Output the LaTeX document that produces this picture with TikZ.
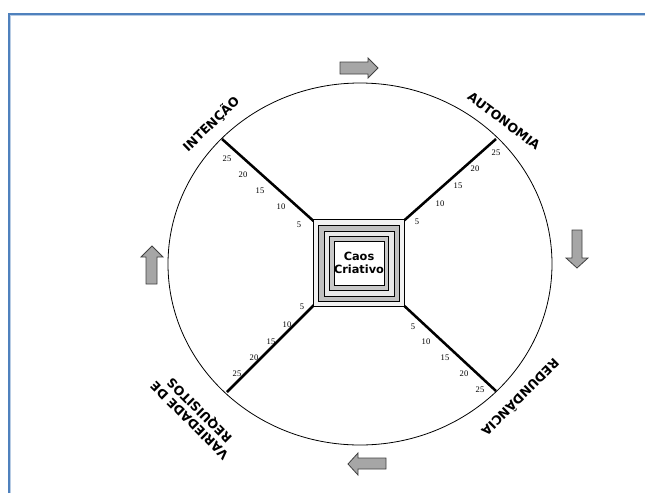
\documentclass[tikz,border=0pt]{standalone}
\usepackage{fontspec}
\setmainfont{Liberation Serif}
\newfontfamily\lblfont{DejaVu Sans}

\tikzset{every picture/.style={line width=0.75pt}}
\tikzset{
  ticklbl/.style={font=\fontsize{6.4}{7}\selectfont, inner sep=0pt},
  axislbl/.style={font=\lblfont\bfseries\fontsize{9.4}{10.5}\selectfont, inner sep=0pt, align=center},
  blockarrow/.style={draw={rgb, 255:red, 64; green, 64; blue, 64}, fill={rgb, 255:red, 166; green, 166; blue, 166}, line width=0.6pt, line join=miter},
  axisline/.style={line width=1.9pt},
  sqline/.style={draw=black, line width=0.6pt}
}

\begin{document}
\begin{tikzpicture}[x=0.75pt,y=0.75pt,yscale=-1,xscale=1]
	\useasboundingbox (0,0) rectangle (645,493);

	%Frame
	\draw [color={rgb, 255:red, 79; green, 129; blue, 189 }, line width=1.5pt] (8.5,493) -- (8.5,13.5) -- (645,13.5) ;
	\draw [color={rgb, 255:red, 184; green, 204; blue, 228 }, line width=0.6pt] (10.5,493) -- (10.5,15.5) -- (645,15.5) ;

	%Shape: Ellipse
	\draw  [line width=0.6pt] (360,264) ellipse (192 and 181) ;

	%Straight Lines
	\draw [axisline]   (318,225) -- (222,139) ;
	\draw [axisline]   (399,225) -- (496,139) ;
	\draw [axisline]   (318,301) -- (227,392) ;
	\draw [axisline]   (399,301) -- (496,391) ;

	%Shape: Rectangle
	\draw  [sqline, fill={rgb, 255:red, 242; green, 242; blue, 242 }] (313,219) rectangle (404,306) ;
	\draw  [sqline, fill={rgb, 255:red, 192; green, 192; blue, 192 }] (318,225) rectangle (399,301) ;
	\draw  [sqline, fill={rgb, 255:red, 232; green, 232; blue, 232 }] (324,231) rectangle (394,296) ;
	\draw  [sqline, fill={rgb, 255:red, 200; green, 200; blue, 200 }] (329,236) rectangle (388,290) ;
	\draw  [sqline, fill=white] (334,241) rectangle (384,285) ;

	% Text Node
	\node (caos) [font=\lblfont\bfseries\fontsize{8.5}{10.2}\selectfont, align=center, inner sep=0pt] at (359,263) {Caos\\Criativo};

	%Block arrows
	\draw [blockarrow] (340,62) -- (368,62) -- (368,58) -- (378,68) -- (368,78) -- (368,74) -- (340,74) -- cycle ;
	\draw [blockarrow] (572,230) -- (582,230) -- (582,258) -- (588,258) -- (577,268) -- (566,258) -- (572,258) -- cycle ;
	\draw [blockarrow] (386,458) -- (358,458) -- (358,453) -- (348,464) -- (358,475) -- (358,469) -- (386,469) -- cycle ;
	\draw [blockarrow] (146,284) -- (146,257) -- (141,257) -- (152,246) -- (163,257) -- (157,257) -- (157,284) -- cycle ;

	% Text Node
	\node (intencao) [axislbl, rotate=44] at (211,124) {INTENÇÃO};
	% Text Node
	\node (autonomia) [axislbl, rotate=-37] at (504,121) {AUTONOMIA};
	% Text Node
	\node (redundancia) [axislbl, rotate=225] at (521,398) {REDUNDÂNCIA};
	% Text Node
	\node (variedade) [axislbl, rotate=135] at (195,415) {VARIEDADE DE\\REQUISITOS};

	% Text Node
	\node [ticklbl] at (227,159) {25};
	\node [ticklbl] at (243,175) {20};
	\node [ticklbl] at (260,191) {15};
	\node [ticklbl] at (281,207) {10};
	\node [ticklbl] at (299,225) {5};
	% Text Node
	\node [ticklbl] at (417,222) {5};
	\node [ticklbl] at (440,204) {10};
	\node [ticklbl] at (458,186) {15};
	\node [ticklbl] at (475,169) {20};
	\node [ticklbl] at (496,153) {25};
	% Text Node
	\node [ticklbl] at (302,307) {5};
	\node [ticklbl] at (287,325) {10};
	\node [ticklbl] at (271,342) {15};
	\node [ticklbl] at (254,358) {20};
	\node [ticklbl] at (237,374) {25};
	% Text Node
	\node [ticklbl] at (413,327) {5};
	\node [ticklbl] at (426,342) {10};
	\node [ticklbl] at (445,358) {15};
	\node [ticklbl] at (464,374) {20};
	\node [ticklbl] at (480,390) {25};

\end{tikzpicture}
\end{document}
